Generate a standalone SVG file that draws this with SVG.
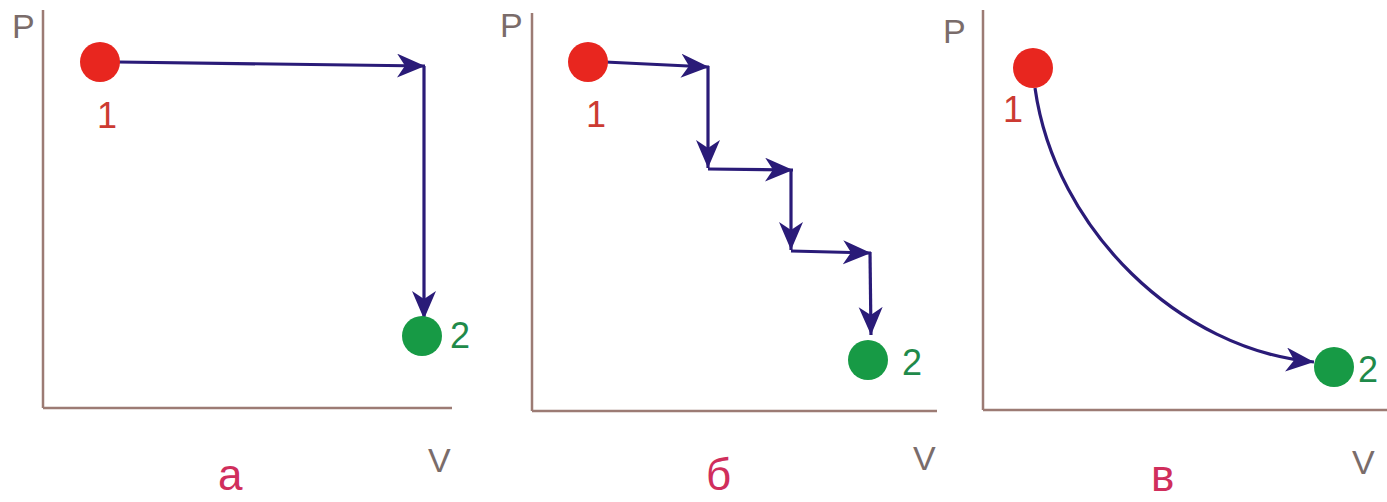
<svg xmlns="http://www.w3.org/2000/svg" width="1387" height="502" viewBox="0 0 1387 502">
<style>
.axis{stroke:#9c7b74;stroke-width:2.5;fill:none}
.conn{stroke:#2a1b78;stroke-width:3.2;fill:none;marker-end:url(#ah)}
.lbl{font-family:"Liberation Sans",Arial,sans-serif;font-size:34px;fill:#7a6c6a}
.n1{font-family:"Liberation Sans",Arial,sans-serif;font-size:36px;fill:#cc3a32}
.n2{font-family:"Liberation Sans",Arial,sans-serif;font-size:36px;fill:#1f8a4a}
.cap{font-family:"Liberation Sans",Arial,sans-serif;font-size:44px;fill:#d02e5c}
.red{fill:#e8261f}
.green{fill:#179a45}
</style>
<defs>
<marker id="ah" markerUnits="userSpaceOnUse" markerWidth="32" markerHeight="28" refX="28" refY="12" orient="auto">
<path d="M0,0 L28,12 L0,24 L8,12 z" fill="#2a1b78"/>
</marker>
</defs>
<rect width="1387" height="502" fill="#ffffff"/>
<g id="panel-a">
<line class="axis" x1="43" y1="10" x2="43" y2="408"/>
<line class="axis" x1="43" y1="408" x2="452" y2="408"/>
<text class="lbl" x="12" y="38">P</text>
<text class="lbl" x="428" y="472">V</text>
<text class="cap" x="218" y="490">а</text>
</g>
<g id="panel-b">
<line class="axis" x1="532" y1="13" x2="532" y2="411"/>
<line class="axis" x1="532" y1="411" x2="937" y2="411"/>
<text class="lbl" x="500" y="37">P</text>
<text class="lbl" x="913" y="470">V</text>
<text class="cap" x="706" y="490">б</text>
</g>
<g id="panel-c">
<line class="axis" x1="983" y1="10" x2="983" y2="410"/>
<line class="axis" x1="983" y1="410" x2="1387" y2="410"/>
<text class="lbl" x="943" y="43">P</text>
<text class="lbl" x="1352" y="474">V</text>
<text class="cap" x="1151" y="491">в</text>
</g>
<g id="connectors">
<path class="conn" d="M118,62 L425,66"/>
<path class="conn" d="M424,66 L424,319"/>
<path class="conn" d="M605,62 L709,67"/>
<path class="conn" d="M708,66 L708,168"/>
<path class="conn" d="M708,169 L793,170"/>
<path class="conn" d="M791,169 L791,250"/>
<path class="conn" d="M791,251 L871,253"/>
<path class="conn" d="M870,252 L871,335"/>
<path class="conn" d="M1035,88 C1055,230 1180,350 1314,362"/>
</g>
<g id="node-a1"><circle class="red" cx="100" cy="62" r="20"/><text class="n1" x="97" y="128">1</text></g>
<g id="node-a2"><circle class="green" cx="422" cy="336" r="20"/><text class="n2" x="450" y="348">2</text></g>
<g id="node-b1"><circle class="red" cx="588" cy="62" r="20"/><text class="n1" x="586" y="127">1</text></g>
<g id="node-b2"><circle class="green" cx="868" cy="360" r="20"/><text class="n2" x="902" y="375">2</text></g>
<g id="node-c1"><circle class="red" cx="1033" cy="68" r="20"/><text class="n1" x="1003" y="122">1</text></g>
<g id="node-c2"><circle class="green" cx="1334" cy="367" r="20"/><text class="n2" x="1358" y="382">2</text></g>
</svg>
